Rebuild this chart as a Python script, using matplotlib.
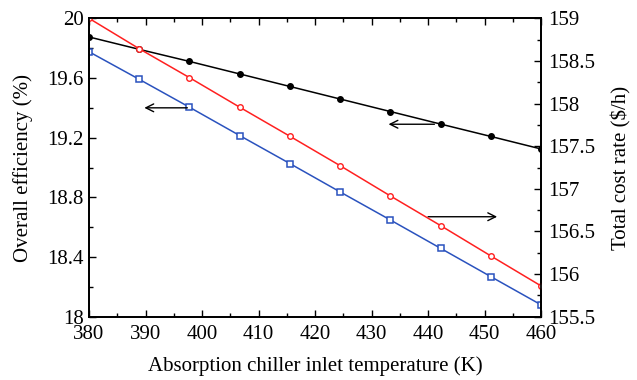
import matplotlib
matplotlib.use("Agg")
import matplotlib.pyplot as plt
from matplotlib.ticker import MultipleLocator

plt.rcParams['font.family'] = ['Liberation Serif', 'DejaVu Serif']

temperature = [380, 388.89, 397.78, 406.67, 415.56, 424.44, 433.33, 442.22, 451.11, 460]
efficiency_black = [19.875, 19.792, 19.711, 19.627, 19.543, 19.459, 19.375, 19.291, 19.208, 19.124]
efficiency_blue = [19.776, 19.591, 19.404, 19.214, 19.026, 18.836, 18.648, 18.458, 18.268, 18.079]
cost_red = [159.0, 158.643, 158.304, 157.957, 157.616, 157.271, 156.916, 156.568, 156.212, 155.86]

x_ticks = [380, 390, 400, 410, 420, 430, 440, 450, 460]
left_ticks = [18, 18.4, 18.8, 19.2, 19.6, 20]
right_ticks = [155.5, 156, 156.5, 157, 157.5, 158, 158.5, 159]

fig = plt.figure(figsize=(6.37, 3.80), dpi=100)
ax = fig.add_axes([0.1397, 0.1666, 0.7099, 0.7852])
ax2 = ax.twinx()

ax.plot(temperature, efficiency_black, color='black', lw=1.1, marker='o', ms=4,
        mfc='black', mec='black')
ax.plot(temperature, efficiency_blue, color='#2a52be', lw=1.1, marker='s', ms=5,
        mfc='white', mec='#2a52be', mew=1.1)
ax2.plot(temperature, cost_red, color='#ff2020', lw=1.1, marker='o', ms=4,
         mfc='white', mec='#ff2020', mew=1.0)

ax.set_xlim(380, 460)
ax.set_ylim(18, 20)
ax2.set_ylim(155.5, 159)

ax.set_xticks(x_ticks)
ax.set_xticklabels([str(v) for v in x_ticks])
ax.set_yticks(left_ticks)
ax.set_yticklabels(['18', '18.4', '18.8', '19.2', '19.6', '20'])
ax2.set_yticks(right_ticks)
ax2.set_yticklabels(['155.5', '156', '156.5', '157', '157.5', '158', '158.5', '159'])
ax.xaxis.set_minor_locator(MultipleLocator(5))
ax.yaxis.set_minor_locator(MultipleLocator(0.2))
ax2.yaxis.set_minor_locator(MultipleLocator(0.25))

fs = 15
ax.tick_params(axis='x', which='both', direction='in', top=True, labelsize=fs, pad=6)
ax.tick_params(axis='x', which='major', length=5, width=1)
ax.tick_params(axis='x', which='minor', length=3, width=1)
ax.tick_params(axis='y', which='both', direction='in', right=False, labelsize=fs, pad=4)
ax.tick_params(axis='y', which='major', length=5, width=1)
ax.tick_params(axis='y', which='minor', length=3, width=1)
ax2.tick_params(axis='y', which='both', direction='in', labelsize=fs, pad=5)
ax2.tick_params(axis='y', which='major', length=5, width=1)
ax2.tick_params(axis='y', which='minor', length=3, width=1)

for a in (ax, ax2):
    for s in a.spines.values():
        s.set_linewidth(1.3)

ax.set_xlabel('Absorption chiller inlet temperature (K)', fontsize=fs, labelpad=9)
ax.set_ylabel('Overall efficiency (%)', fontsize=fs, labelpad=10)
ax2.set_ylabel('Total cost rate ($/h)', fontsize=fs, labelpad=12)

arrow = dict(arrowstyle='->', color='black', lw=1.0, mutation_scale=14)
ax.annotate('', xy=(389.3, 19.40), xytext=(397.9, 19.40), arrowprops=arrow)
ax.annotate('', xy=(432.5, 19.29), xytext=(441.6, 19.29), arrowprops=arrow)
ax.annotate('', xy=(452.7, 18.67), xytext=(439.5, 18.67), arrowprops=arrow)

fig.savefig('out.png', dpi=100)
